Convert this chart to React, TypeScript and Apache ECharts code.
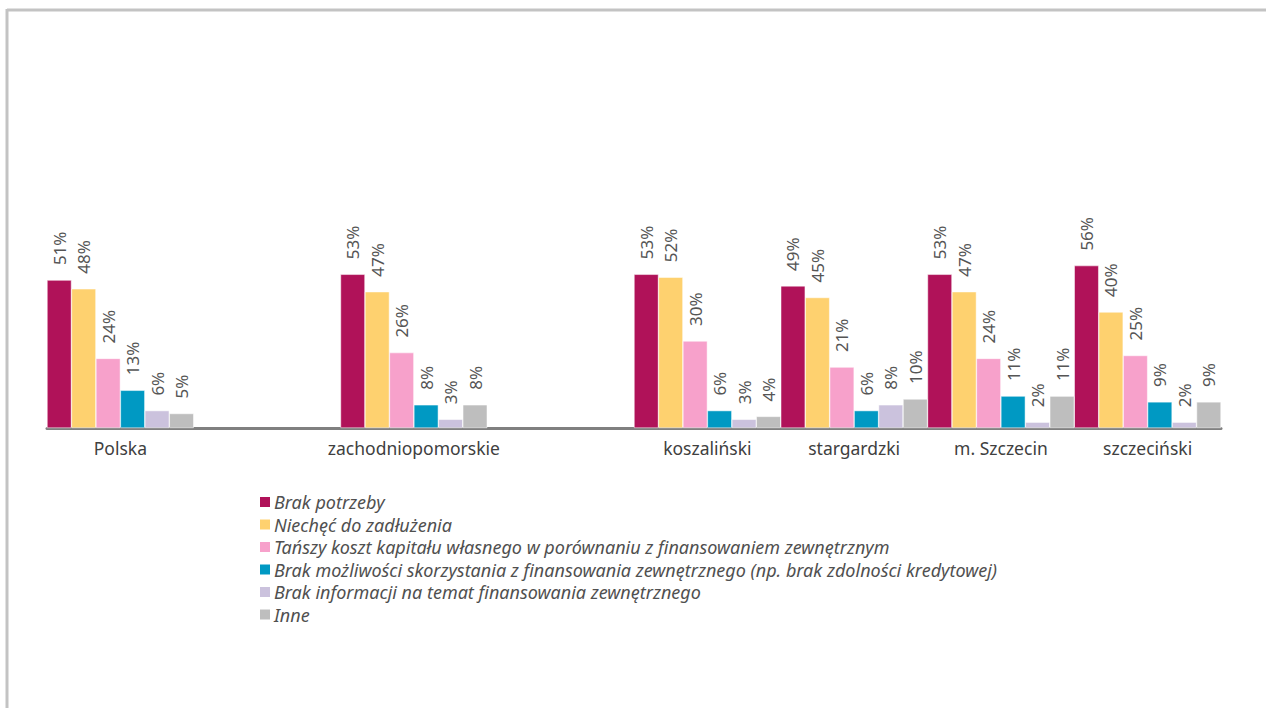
import React, { useEffect, useRef } from "react";
import * as echarts from "echarts";

const categories = ["Polska", "", "zachodniopomorskie", "", "koszaliński", "stargardzki", "m. Szczecin", "szczeciński"];
const seriesNames = [
  "Brak potrzeby",
  "Niechęć do zadłużenia",
  "Tańszy koszt kapitału własnego w porównaniu z finansowaniem zewnętrznym",
  "Brak możliwości skorzystania z finansowania zewnętrznego (np. brak zdolności kredytowej)",
  "Brak informacji na temat finansowania zewnętrznego",
  "Inne",
];
const colors = ["#B01259", "#FED16F", "#F7A1CB", "#0099C3", "#CBC2DD", "#BEBEBE"];
const brakPotrzeby = [51, "-", 53, "-", 53, 49, 53, 56];
const niechec = [48, "-", 47, "-", 52, 45, 47, 40];
const tanszy = [24, "-", 26, "-", 30, 21, 24, 25];
const brakMozliwosci = [13, "-", 8, "-", 6, 6, 11, 9];
const brakInformacji = [6, "-", 3, "-", 3, 8, 2, 2];
const inne = [5, "-", 8, "-", 4, 10, 11, 9];
const seriesData = [brakPotrzeby, niechec, tanszy, brakMozliwosci, brakInformacji, inne];

const FONT = "'Noto Sans', 'Open Sans', sans-serif";

export default function App() {
  const ref = useRef<HTMLDivElement>(null);
  useEffect(() => {
    if (!ref.current) return;
    const chart = echarts.init(ref.current, undefined, { renderer: "svg" });
    chart.setOption({
      animation: false,
      backgroundColor: "#ffffff",
      textStyle: { fontFamily: FONT },
      graphic: [
        { type: "line", shape: { x1: 7, y1: 10, x2: 1266, y2: 10 }, style: { stroke: "#C3C3C3", lineWidth: 3 } },
        { type: "line", shape: { x1: 7, y1: 9, x2: 7, y2: 708 }, style: { stroke: "#C3C3C3", lineWidth: 3 } },
      ],
      grid: { left: 47, right: 45, top: 138, bottom: 280 },
      legend: {
        orient: "vertical",
        left: 258,
        top: 493,
        padding: 0,
        itemWidth: 12,
        itemHeight: 12,
        itemGap: 4.5,
        icon: "rect",
        textStyle: { fontSize: 18, fontStyle: "italic", color: "#505050", fontFamily: FONT, padding: [0, 0, 0, -2] },
        data: seriesNames,
      },
      xAxis: {
        type: "category",
        data: categories,
        axisLine: { lineStyle: { color: "#808080", width: 3 } },
        axisTick: { show: false },
        axisLabel: { fontSize: 17.5, color: "#404040", margin: 11, fontFamily: FONT, interval: 0 },
      },
      yAxis: {
        type: "value",
        min: 0,
        max: 100,
        show: false,
      },
      series: seriesNames.map((name, i) => ({
        name,
        type: "bar",
        data: seriesData[i],
        barGap: "0%",
        barCategoryGap: "0%",
        itemStyle: { color: colors[i], borderColor: "#ffffff", borderWidth: 0.5 },
        label: {
          show: true,
          position: "top",
          rotate: 90,
          align: "left",
          verticalAlign: "middle",
          distance: 15,
          fontSize: 17,
          color: "#555555",
          fontFamily: FONT,
          formatter: (p: any) => `${p.value}%`,
        },
      })),
    });
    return () => chart.dispose();
  }, []);
  return <div ref={ref} style={{ position: "absolute", left: 0, top: 0, width: 1266, height: 708 }} />;
}
